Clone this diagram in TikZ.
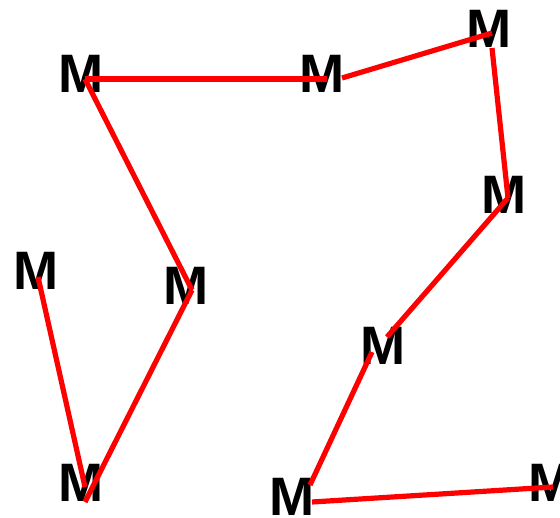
\documentclass[tikz,border=0pt]{standalone}
\usepackage{fontspec}
\setmainfont{Liberation Sans}
\definecolor{trazorojo}{RGB}{255,0,0}
\usetikzlibrary{calc}
\tikzset{
	letra/.style={font=\bfseries\fontsize{38.5}{40}\selectfont, inner sep=0pt},
	trazo/.style={trazorojo, line width=3.7pt}
}
\begin{document}
\begin{tikzpicture}[x=0.025cm, y=-0.025cm]
	\useasboundingbox (0,0) rectangle (560,518);
	% letras
	\node[letra] (m1) at (81,74) {M};
	\node[letra] (m2) at (322,74) {M};
	\node[letra] (m3) at (489,29) {M};
	\node[letra] (m4) at (504,195) {M};
	\node[letra] (m5) at (36,271) {M};
	\node[letra] (m6) at (186,286) {M};
	\node[letra] (m7) at (383,346) {M};
	\node[letra] (m8) at (81,483) {M};
	\node[letra] (m9) at (292,497) {M};
	\node[letra] (m10) at (551,483) {M};
	% trazos
	\draw[trazo] ($(m1.center)+(4,5)$) -- ($(m2.center)+(5,5)$);
	\draw[trazo] ($(m1.center)+(4,5)$) -- ($(m6.center)+(6,4)$);
	\draw[trazo] ($(m6.center)+(6,4)$) -- ($(m8.center)+(4,19)$);
	\draw[trazo] ($(m5.center)+(2,6)$) -- ($(m8.center)+(4,4)$);
	\draw[trazo] ($(m2.center)+(20,4)$) -- ($(m3.center)+(3,4)$);
	\draw[trazo] ($(m3.center)+(3,19)$) -- ($(m4.center)+(4,3)$);
	\draw[trazo] ($(m4.center)+(4,3)$) -- ($(m7.center)+(4,-9)$);
	\draw[trazo] ($(m7.center)+(-11,6)$) -- ($(m9.center)+(18,-12)$);
	\draw[trazo] ($(m9.center)+(20,5)$) -- ($(m10.center)+(2,4)$);
\end{tikzpicture}
\end{document}
